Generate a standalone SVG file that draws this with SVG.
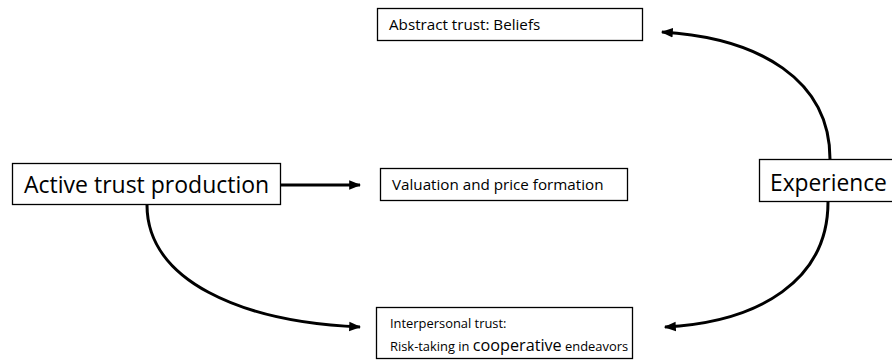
<svg xmlns="http://www.w3.org/2000/svg" width="892" height="360" viewBox="0 0 892 360">
  <style>
    .box { fill: #ffffff; stroke: #000000; stroke-width: 1.3; }
    .t { font-family: "Open Sans", "Liberation Sans", sans-serif; fill: #000000; }
    .link { fill: none; stroke: #000000; stroke-width: 3; }
  </style>
  <defs>
    <marker id="head" viewBox="0 0 10 10" refX="9" refY="5" markerWidth="4" markerHeight="4" markerUnits="strokeWidth" orient="auto">
      <path d="M0,1 L10,5 L0,9 z" fill="#000000"/>
    </marker>
  </defs>
  <rect width="892" height="360" fill="#ffffff"/>

  <g id="connectors">
    <path class="link" d="M281,185 L360,185" marker-end="url(#head)"/>
    <path class="link" d="M147,205 C147,280 240,322 360,327" marker-end="url(#head)"/>
    <path class="link" d="M830,159 C830,80 760,38 662,32" marker-end="url(#head)"/>
    <path class="link" d="M828,202 C828,280 760,322 665,327" marker-end="url(#head)"/>
  </g>

  <g id="abstract-trust">
    <rect class="box" x="377.5" y="8.5" width="265" height="32"/>
    <text class="t" x="389" y="30" font-size="15.2">Abstract trust: Beliefs</text>
  </g>

  <g id="active-trust-production">
    <rect class="box" x="12.5" y="163.5" width="268" height="41"/>
    <text class="t" x="24" y="193" font-size="23">Active trust production</text>
  </g>

  <g id="valuation">
    <rect class="box" x="380.5" y="168.5" width="247" height="32"/>
    <text class="t" x="392" y="190" font-size="15.2">Valuation and price formation</text>
  </g>

  <g id="experience">
    <rect class="box" x="759.5" y="159.5" width="140" height="42"/>
    <text class="t" x="770" y="191" font-size="22.8">Experience</text>
  </g>

  <g id="interpersonal-trust">
    <rect class="box" x="376.5" y="307.5" width="256" height="51"/>
    <text class="t" x="390" y="328" font-size="12.9">Interpersonal trust:</text>
    <text class="t" x="390" y="351" font-size="12.9">Risk-taking in <tspan font-size="16.2">cooperative</tspan> endeavors</text>
  </g>
</svg>
